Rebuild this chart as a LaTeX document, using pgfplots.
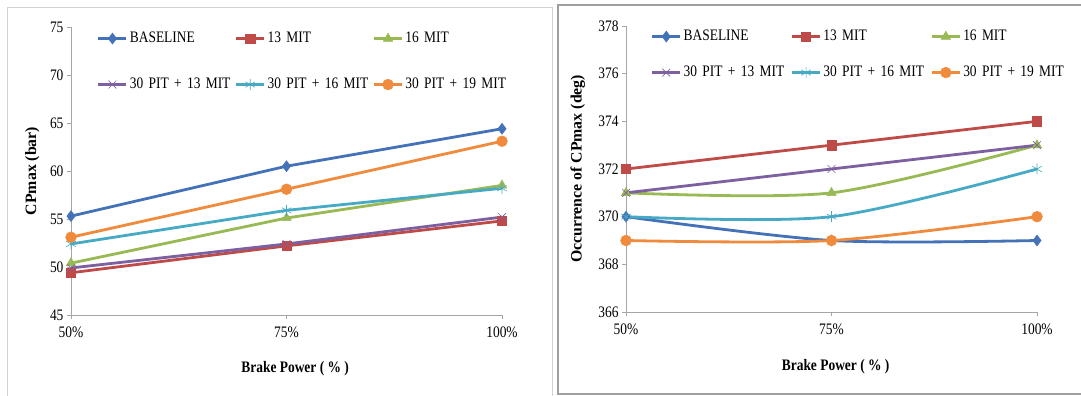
\documentclass[border=0pt]{standalone}
\usepackage{pgfplots}
\pgfplotsset{compat=1.18}
\usepackage{pgfplotstable}
\usepackage{fontspec}
\setmainfont[FakeStretch=0.84]{Liberation Serif}
\newfontfamily\vfont{Liberation Serif}

\definecolor{cBase}{HTML}{4472B8}
\definecolor{cM13}{HTML}{BE4B48}
\definecolor{cM16}{HTML}{98B954}
\definecolor{cP13}{HTML}{7D60A0}
\definecolor{cP16}{HTML}{46AAC5}
\definecolor{cP19}{HTML}{F08A3C}
\definecolor{axisgray}{HTML}{A6A6A6}

% Peak cylinder pressure (bar)
\pgfplotstableread{
x  base  m13   m16   p13   p16   p19
0  55.3  49.4  50.4  49.9  52.4  53.1
1  60.5  52.2  55.1  52.4  55.9  58.1
2  64.4  54.8  58.5  55.2  58.2  63.1
}\cpmax
% Crank angle of peak pressure (deg)
\pgfplotstableread{
x  base  m13  m16  p13  p16  p19
0  370   372  371  371  370  369
1  369   373  371  372  370  369
2  369   374  373  373  372  370
}\cpangle

\newcommand{\fs}{\fontsize{16}{18}\selectfont}

\pgfplotsset{
  panel/.style={
    scale only axis,
    anchor=south west,
    axis lines*=left,
    axis line style={axisgray, line width=0.8pt},
    tick style={axisgray, line width=0.8pt},
    tick align=outside,
    major tick length=4pt,
    xmin=0, xmax=2,
    xtick={0,1,2},
    xticklabels={50\%,75\%,100\%},
    xticklabel style={yshift=-4pt},
    ticklabel style={font=\fs},
    /pgf/number format/assume math mode=true,
    xlabel style={font=\fs\bfseries},
    ylabel style={font=\vfont\fontsize{15.8}{18}\selectfont\bfseries},
    legend columns=3,
    legend cell align=left,
    legend image code/.code={%
      \draw[mark repeat=2,mark phase=2,#1]
        plot coordinates {(0pt,0pt) (14pt,0pt) (28pt,0pt)};},
    clip=false,
  },
  sBase/.style={cBase, line width=2.8pt, mark=diamond*, mark size=5.5pt, mark options={solid, line width=0.5pt}},
  sM13/.style={cM13, line width=2.8pt, mark=square*, mark size=4.6pt, mark options={solid, line width=0.5pt}},
  sM16/.style={cM16, line width=2.8pt, mark=triangle*, mark size=5.4pt, mark options={solid, line width=0.5pt}},
  sP13/.style={cP13, line width=2.8pt, mark=x, mark size=5.5pt, mark options={solid, line width=0.6pt}},
  sP16/.style={cP16, line width=2.8pt, mark=asterisk, mark size=5.5pt, mark options={solid, line width=0.6pt}},
  sP19/.style={cP19, line width=2.8pt, mark=*, mark size=5.4pt, mark options={solid, line width=0.5pt}},
}

\begin{document}
\begin{tikzpicture}[x=1pt,y=1pt]
\path[use as bounding box] (0,0) rectangle (1081,396);
% panel frames
\draw[gray!35, line width=0.9pt] (7,389) rectangle (552,-5);
\draw[gray!75, line width=1.3pt] (558,391) rectangle (1090,2);

\begin{axis}[panel,
  at={(71pt,81pt)}, width=431pt, height=288pt,
  ymin=45, ymax=75, ytick={45,50,...,75},
  ylabel={CPmax (bar)},
  xlabel={Brake Power ( \% )},
  ylabel style={at={(axis description cs:-0.09,0.5)}, anchor=center},
  xlabel style={at={(axis description cs:0.52,-0.1875)}, anchor=center},
  legend style={at={(axis description cs:0.06,0.88)}, anchor=west,
    draw=none, fill=none, inner sep=0pt, column sep=0pt, row sep=28pt,
    font=\fs,
    nodes={text width=103pt, inner sep=2pt, text height=11pt, text depth=3pt}},
]
\addplot[sBase] table[x=x, y=base] {\cpmax};
\addplot[sM13]  table[x=x, y=m13]  {\cpmax};
\addplot[sM16]  table[x=x, y=m16]  {\cpmax};
\addplot[sP13]  table[x=x, y=p13]  {\cpmax};
\addplot[sP16]  table[x=x, y=p16]  {\cpmax};
\addplot[sP19]  table[x=x, y=p19]  {\cpmax};
\legend{BASELINE, 13 MIT, 16 MIT, \mbox{30 PIT + 13 MIT}, \mbox{30 PIT + 16 MIT}, \mbox{30 PIT + 19 MIT}}
\end{axis}

\begin{axis}[panel,
  at={(626pt,84pt)}, width=411pt, height=286pt,
  ymin=366, ymax=378, ytick={366,368,...,378},
  ylabel={Occurrence of CPmax (deg)},
  xlabel={Brake Power ( \% )},
  ylabel style={at={(axis description cs:-0.117,0.5)}, anchor=center},
  xlabel style={at={(axis description cs:0.51,-0.191)}, anchor=center},
  legend style={at={(axis description cs:0.06,0.90)}, anchor=west,
    draw=none, fill=none, inner sep=0pt, column sep=0pt, row sep=18pt,
    font=\fs,
    nodes={text width=105pt, inner sep=2pt, text height=11pt, text depth=3pt}},
]
\addplot[sBase, smooth] table[x=x, y=base] {\cpangle};
\addplot[sM13, smooth]  table[x=x, y=m13]  {\cpangle};
\addplot[sM16, smooth]  table[x=x, y=m16]  {\cpangle};
\addplot[sP13, smooth]  table[x=x, y=p13]  {\cpangle};
\addplot[sP16, smooth]  table[x=x, y=p16]  {\cpangle};
\addplot[sP19, smooth]  table[x=x, y=p19]  {\cpangle};
\legend{BASELINE, 13 MIT, 16 MIT, \mbox{30 PIT + 13 MIT}, \mbox{30 PIT + 16 MIT}, \mbox{30 PIT + 19 MIT}}
\end{axis}
\end{tikzpicture}
\end{document}
